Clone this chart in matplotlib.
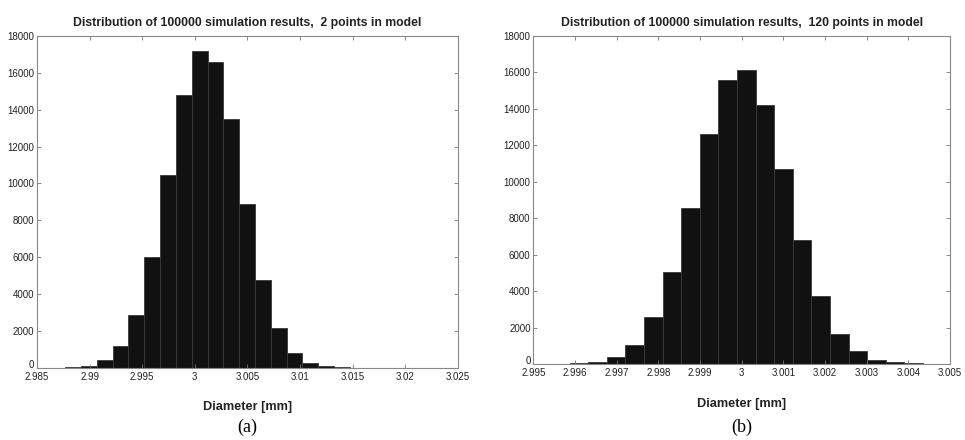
import numpy as np
import matplotlib
matplotlib.use("Agg")
import matplotlib.pyplot as plt
import matplotlib.transforms as mtransforms

# --- data ---
# (a) 2 points in model: 20 bins between these limits
bins_a_range = (2.98617, 3.01624)
counts_a = [10, 30, 100, 400, 1200, 2880, 6000, 10480, 14800, 17200,
            16600, 13470, 8870, 4770, 2170, 800, 260, 90, 25, 8]
xticks_a = [2.985, 2.99, 2.995, 3.0, 3.005, 3.01, 3.015, 3.02, 3.025]
xlabels_a = ['2.985', '2.99', '2.995', '3', '3.005', '3.01', '3.015', '3.02', '3.025']

# (b) 120 points in model
bins_b_range = (2.995424, 3.004352)
counts_b = [20, 50, 130, 365, 1025, 2560, 5050, 8560, 12620, 15570,
            16120, 14240, 10690, 6800, 3750, 1665, 695, 240, 90, 30]
xticks_b = [2.995, 2.996, 2.997, 2.998, 2.999, 3.0, 3.001, 3.002, 3.003, 3.004, 3.005]
xlabels_b = ['2.995', '2.996', '2.997', '2.998', '2.999', '3', '3.001', '3.002',
             '3.003', '3.004', '3.005']

yticks = [0, 2000, 4000, 6000, 8000, 10000, 12000, 14000, 16000, 18000]

titles = ['Distribution of 100000 simulation results,  2 points in model',
          'Distribution of 100000 simulation results,  120 points in model']
panel_tags = ['(a)', '(b)']

plt.rcParams['font.family'] = ['Liberation Sans', 'DejaVu Sans']

fig = plt.figure(figsize=(9.65, 4.4), dpi=100)
ax_a = fig.add_axes([0.0383, 0.1643, 0.4363, 0.7539])
ax_b = fig.add_axes([0.5527, 0.1727, 0.4318, 0.7455])

panels = [
    (ax_a, bins_a_range, counts_a, (2.985, 3.025), xticks_a, xlabels_a),
    (ax_b, bins_b_range, counts_b, (2.995, 3.005), xticks_b, xlabels_b),
]

for i, (ax, rng, counts, xlim, xt, xl) in enumerate(panels):
    edges = np.linspace(rng[0], rng[1], len(counts) + 1)
    ax.bar(edges[:-1], counts, width=np.diff(edges), align='edge',
           color='#111111', edgecolor='#3a3a3a', linewidth=0.6)

    ax.set_xlim(*xlim)
    ax.set_ylim(0, 18000)
    ax.set_xticks(xt)
    ax.set_xticklabels(xl)
    ax.set_yticks(yticks)
    ax.tick_params(direction='in', length=3, width=0.6, color='#777777',
                   labelsize=7, pad=2, top=True, right=True,
                   labelcolor='#222222')
    ax.tick_params(axis='x', pad=3)
    for s in ax.spines.values():
        s.set_color('#888888')
        s.set_linewidth(0.8)

    # nudge the "0" label up a little so it clears the first x label
    zero_lbl = ax.get_yticklabels()[0]
    zero_lbl.set_transform(zero_lbl.get_transform() +
                           mtransforms.ScaledTranslation(0, 3 / 72, fig.dpi_scale_trans))

    ax.set_title(titles[i], fontsize=8.8, fontweight='bold', color='#222222', pad=7)
    ax.set_xlabel('Diameter [mm]', fontsize=9.2, fontweight='bold',
                  color='#222222', labelpad=14)

    # panel tag (a) / (b) in serif font below the axis label
    pos = ax.get_position()
    fig.text(pos.x0 + pos.width / 2, 0.028, panel_tags[i], ha='center',
             va='center', fontsize=13, family=['Liberation Serif', 'DejaVu Serif'])

fig.savefig('out.png', dpi=100)
